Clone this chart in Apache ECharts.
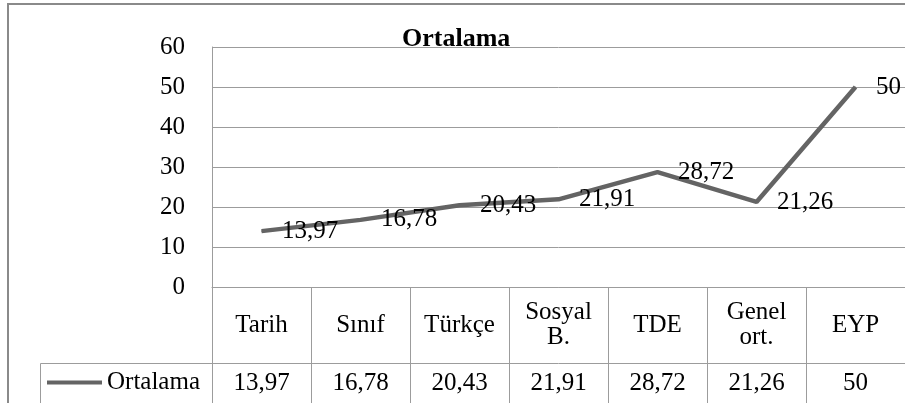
<!DOCTYPE html>
<html>
<head>
<meta charset="utf-8">
<script src="https://cdn.jsdelivr.net/npm/echarts@6/dist/echarts.min.js"></script>
<style>
  html, body { margin: 0; padding: 0; background: #fff; }
  #chart { width: 905px; height: 403px; }
</style>
</head>
<body>
<div id="chart"></div>
<script>
const titleText = 'Ortalama';
const seriesName = 'Ortalama';
const categories = ['Tarih', 'S\u0131n\u0131f', 'T\u00fcrk\u00e7e', 'Sosyal\nB.', 'TDE', 'Genel\nort.', 'EYP'];
const values = [13.97, 16.78, 20.43, 21.91, 28.72, 21.26, 50];
const yTicks = [0, 10, 20, 30, 40, 50, 60];

const fmt = v => String(v).replace('.', ',');
const FONT = "'Liberation Serif', 'Times New Roman', 'DejaVu Serif', serif";
const FS = 25;
const GRID_COLOR = '#9c9c9c';
const LINE_COLOR = '#646464';

const chart = echarts.init(document.getElementById('chart'), null, { renderer: 'canvas' });

const option = {
  backgroundColor: '#ffffff',
  animation: false,
  textStyle: { fontFamily: FONT },
  title: {
    text: titleText,
    left: 402,
    top: 26,
    padding: 0,
    textStyle: { fontFamily: FONT, fontSize: 26, fontWeight: 'bold', color: '#000' }
  },
  legend: {
    left: 47,
    top: 370,
    padding: 0,
    icon: 'rect',
    itemWidth: 55,
    itemHeight: 4,
    data: [seriesName],
    textStyle: { fontFamily: FONT, fontSize: FS, color: '#000' }
  },
  grid: {
    left: 212,
    top: 47,
    width: 698,
    height: 240,
    containLabel: false
  },
  xAxis: [
    {
      type: 'category',
      data: categories,
      position: 'bottom',
      boundaryGap: true,
      axisLine: { show: true, lineStyle: { color: GRID_COLOR, width: 1 } },
      axisTick: { show: true, interval: 0, length: 76, alignWithLabel: false, lineStyle: { color: GRID_COLOR, width: 1 } },
      axisLabel: {
        interval: 0,
        margin: 38,
        verticalAlign: 'middle',
        fontFamily: FONT,
        fontSize: FS,
        lineHeight: 25,
        color: '#000'
      },
      splitLine: { show: false }
    },
    {
      type: 'category',
      data: categories,
      position: 'bottom',
      offset: 76,
      boundaryGap: true,
      axisLine: { show: true, lineStyle: { color: GRID_COLOR, width: 1 } },
      axisTick: { show: true, interval: 0, length: 60, alignWithLabel: false, lineStyle: { color: GRID_COLOR, width: 1 } },
      axisLabel: {
        interval: 0,
        margin: 20,
        verticalAlign: 'middle',
        fontFamily: FONT,
        fontSize: FS,
        color: '#000',
        formatter: (val, idx) => fmt(values[idx])
      },
      splitLine: { show: false }
    }
  ],
  yAxis: {
    type: 'value',
    min: yTicks[0],
    max: yTicks[yTicks.length - 1],
    interval: 10,
    axisLine: { show: true, lineStyle: { color: GRID_COLOR, width: 1 } },
    axisTick: { show: false },
    axisLabel: {
      margin: 27,
      fontFamily: FONT,
      fontSize: FS,
      color: '#000',
      verticalAlign: 'middle'
    },
    splitLine: { show: true, lineStyle: { color: GRID_COLOR, width: 1 } }
  },
  series: [
    {
      name: seriesName,
      type: 'line',
      xAxisIndex: 0,
      data: values,
      symbol: 'circle',
      symbolSize: 1,
      showSymbol: true,
      lineStyle: { color: LINE_COLOR, width: 4.5 },
      itemStyle: { color: LINE_COLOR },
      label: {
        show: true,
        position: 'right',
        distance: 20,
        fontFamily: FONT,
        fontSize: FS,
        color: '#000',
        formatter: p => fmt(p.value)
      },
      z: 3
    }
  ],
  graphic: [
    {
      type: 'rect',
      shape: { x: 8, y: 4, width: 1200, height: 1200 },
      style: { fill: 'none', stroke: '#8a8a8a', lineWidth: 2 },
      silent: true,
      z: -1
    },
    {
      type: 'polyline',
      shape: { points: [[40.5, 430], [40.5, 363.5], [212, 363.5]] },
      style: { fill: 'none', stroke: GRID_COLOR, lineWidth: 1 },
      silent: true
    }
  ]
};

chart.setOption(option);
</script>
</body>
</html>
